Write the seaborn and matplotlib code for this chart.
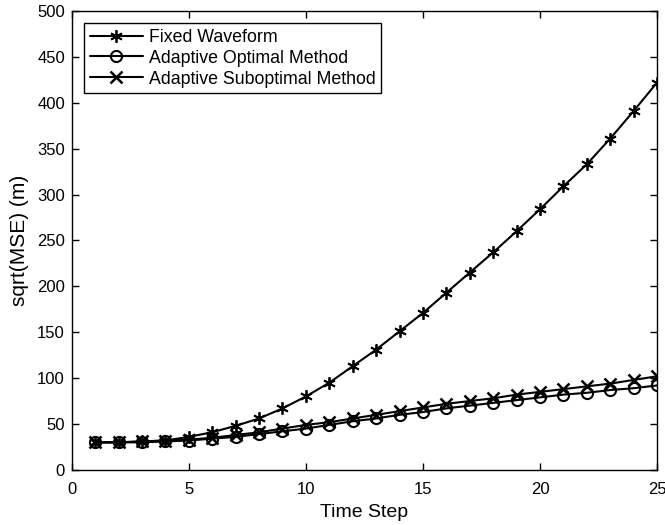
import numpy as np
import pandas as pd
import matplotlib
matplotlib.use("Agg")
import matplotlib.pyplot as plt
import seaborn as sns

# ---------------------------------------------
# DATA
# ---------------------------------------------
time_step = list(range(1, 26))

fixed_waveform = [30, 30, 31, 32, 36, 41, 48, 56, 67, 80, 95, 113, 131,
                  151, 171, 193, 215, 237, 260, 284, 309, 333, 361, 391, 422]
adaptive_optimal = [30, 30, 30, 31, 32, 34, 36, 39, 42, 45, 49, 53, 56,
                    60, 63, 67, 70, 73, 76, 79, 82, 84, 87, 89, 92]
adaptive_suboptimal = [30, 30, 31, 32, 33, 35, 38, 41, 45, 49, 52, 56, 60,
                       64, 68, 72, 75, 78, 82, 85, 88, 91, 94, 98, 102]

series_names = ["Fixed Waveform", "Adaptive Optimal Method", "Adaptive Suboptimal Method"]

# ---------------------------------------------
# STYLE
# ---------------------------------------------
sns.set_theme(style="ticks")
plt.rcParams["font.family"] = ["Liberation Sans", "DejaVu Sans"]
plt.rcParams["text.color"] = "black"
plt.rcParams["axes.labelcolor"] = "black"
plt.rcParams["xtick.direction"] = "in"
plt.rcParams["ytick.direction"] = "in"

fig = plt.figure(figsize=(6.65, 5.25), dpi=100)
ax = fig.add_axes([0.108, 0.105, 0.880, 0.874])

# ---------------------------------------------
# PLOT
# ---------------------------------------------
sns.lineplot(x=time_step, y=fixed_waveform, ax=ax, color="black", lw=1.5,
             marker=(6, 2, 0), markersize=9, markeredgewidth=1.3,
             markeredgecolor="black", label=series_names[0])
sns.lineplot(x=time_step, y=adaptive_optimal, ax=ax, color="black", lw=1.5,
             marker="o", markersize=8, markerfacecolor="none",
             markeredgewidth=1.5, markeredgecolor="black", label=series_names[1])
sns.lineplot(x=time_step, y=adaptive_suboptimal, ax=ax, color="black", lw=1.5,
             marker="x", markersize=8, markeredgewidth=1.8,
             markeredgecolor="black", label=series_names[2])

ax.set_xlim(0, 25)
ax.set_ylim(0, 500)
ax.set_xticks(np.arange(0, 26, 5))
ax.set_yticks(np.arange(0, 501, 50))
ax.set_xlabel("Time Step", fontsize=14, color="black", labelpad=5)
ax.set_ylabel("sqrt(MSE) (m)", fontsize=15, color="black", labelpad=6)
ax.tick_params(axis="both", which="major", labelsize=12, length=5, width=1,
               colors="black", top=True, right=True)
ax.tick_params(axis="x", pad=9)
ax.tick_params(axis="y", pad=5)

for sp in ax.spines.values():
    sp.set_visible(True)
    sp.set_color("black")
    sp.set_linewidth(1.0)

leg = ax.legend(loc="upper left", fontsize=12.8, frameon=True, fancybox=False,
                framealpha=1, edgecolor="black", handlelength=3.0,
                handletextpad=0.35, borderaxespad=0.7, borderpad=0.3,
                labelspacing=0.22)
leg.get_frame().set_linewidth(1.0)
for txt in leg.get_texts():
    txt.set_color("black")

fig.savefig("out.png", dpi=100)
